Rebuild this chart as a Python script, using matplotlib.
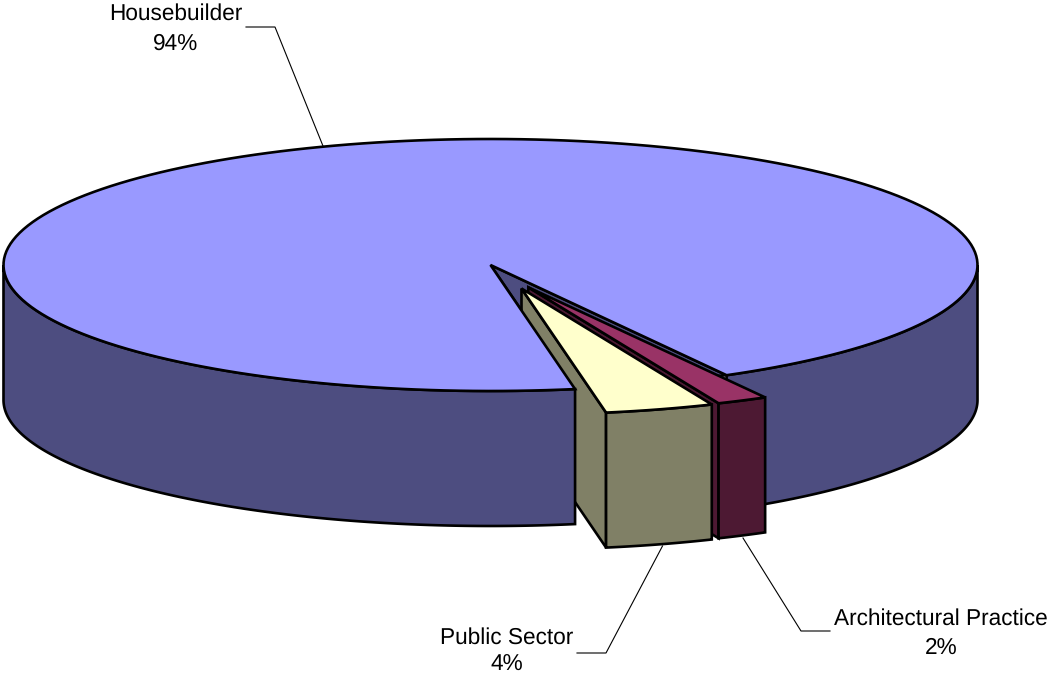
import matplotlib
matplotlib.use('Agg')
import matplotlib.pyplot as plt
import numpy as np
from matplotlib.patches import Polygon

plt.rcParams['font.family'] = ['Liberation Sans', 'DejaVu Sans']
plt.rcParams['text.hinting'] = 'none'

# data
categories = ['Housebuilder', 'Public Sector', 'Architectural Practice']
shares = [94, 4, 2]
# on screen the slices are narrower than the rounded shares, so the edges are read directly
edge_housebuilder = [80.0, 61.0 + 360]
edge_public = [67.0, 80.0]
edge_arch = [60.9, 67.0]

# colours (top, wall)
top_colors = ['#9999ff', '#ffffcc', '#993366']
wall_colors = ['#4d4d80', '#808066', '#4d1933']

# pie geometry in pixels
cx, cy = 490.5, 265
rx, ry = 487, 126
depth = 135
public_apex = (521.5, 288.5)
arch_apex = (528.3, 287.3)
lw = 1.9

fig = plt.figure(figsize=(10.48, 6.76), dpi=100)
ax = fig.add_axes([0, 0, 1, 1])
ax.set_xlim(0, 1048)
ax.set_ylim(676, 0)
ax.axis('off')


def arc(x0, y0, t0, t1):
    t = np.radians(np.linspace(t0, t1, 200))
    return np.column_stack([x0 + rx * np.cos(t), y0 + ry * np.sin(t)])


def poly(pts, color):
    ax.add_patch(Polygon(pts, closed=True, facecolor=color, edgecolor='black',
                         linewidth=lw, joinstyle='miter'))


def wall(x0, y0, t0, t1, color):
    top = arc(x0, y0, t0, t1)
    poly(np.vstack([top, (top + [0, depth])[::-1]]), color)


def side(x0, y0, t, color):
    p = arc(x0, y0, t, t)[0]
    poly([(x0, y0), p, (p[0], p[1] + depth), (x0, y0 + depth)], color)


def top(x0, y0, t0, t1, color):
    poly(np.vstack([[(x0, y0)], arc(x0, y0, t0, t1)]), color)


# back part of the big slice
wall(cx, cy, 0, 61.0, wall_colors[0])
poly([(cx, cy), arc(cx, cy, 80, 80)[0], arc(cx, cy, 61.0, 61.0)[0]], wall_colors[0])

# architectural practice
side(arch_apex[0], arch_apex[1], edge_arch[1], wall_colors[2])
wall(arch_apex[0], arch_apex[1], edge_arch[0], edge_arch[1], wall_colors[2])
top(arch_apex[0], arch_apex[1], edge_arch[0], edge_arch[1], top_colors[2])

# public sector
side(public_apex[0], public_apex[1], edge_public[1], wall_colors[1])
wall(public_apex[0], public_apex[1], edge_public[0], edge_public[1], wall_colors[1])
top(public_apex[0], public_apex[1], edge_public[0], edge_public[1], top_colors[1])

# front of the big slice and its top go over the public sector side
wall(cx, cy, edge_housebuilder[0], 180, wall_colors[0])
top(cx, cy, edge_housebuilder[0], edge_housebuilder[1], top_colors[0])

# labels and leader lines
leaders = [
    [(246, 27), (275, 27), (323, 146)],
    [(577, 653), (606, 653), (662.5, 546)],
    [(830, 631), (801, 631), (743, 538)],
]
label_pos = [(176, 20), (507, 644), (941, 625)]
pct_pos = [(175.5, 50), (507, 671), (941, 654)]

for name, share, pos, pos2, line in zip(categories, shares, label_pos, pct_pos, leaders):
    xs, ys = zip(*line)
    ax.plot(xs, ys, color='black', linewidth=0.8, solid_joinstyle='miter')
    ax.text(pos[0], pos[1], name, fontsize=16.3, ha='center', va='baseline', color='black')
    ax.text(pos2[0], pos2[1], '%d%%' % share, fontsize=16.3, ha='center', va='baseline', color='black')

fig.savefig('out.png', dpi=100)
